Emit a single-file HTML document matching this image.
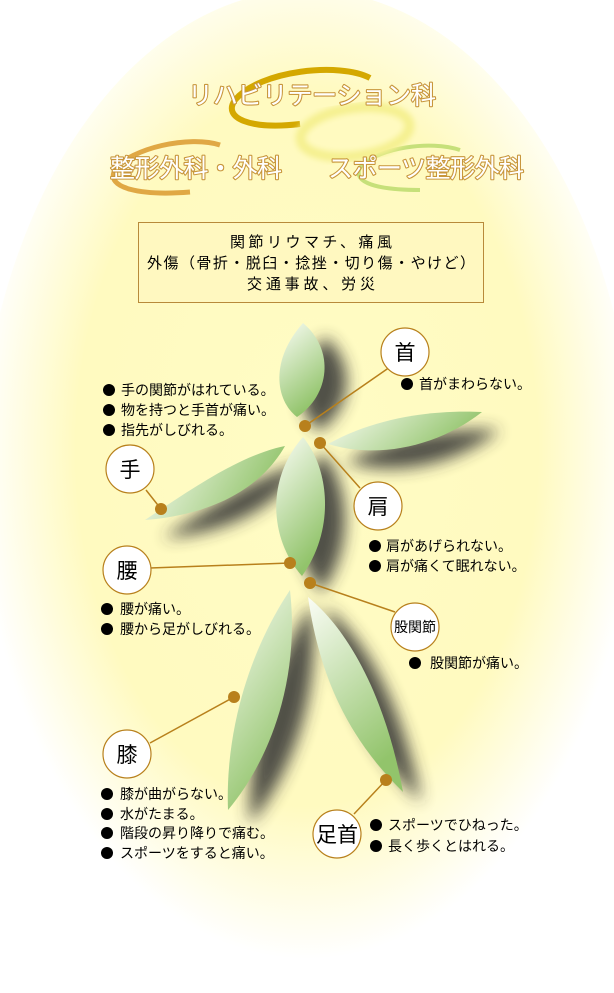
<!DOCTYPE html>
<html><head><meta charset="utf-8"><style>
body{margin:0;width:614px;height:988px;overflow:hidden;background:#fff;font-family:"Liberation Sans","Noto Sans CJK JP",sans-serif}
</style></head><body>
<svg width="614" height="988" viewBox="0 0 614 988" xmlns="http://www.w3.org/2000/svg" font-family="Liberation Sans, Noto Sans CJK JP, sans-serif">
<defs>
<radialGradient id="bg" cx="0.5" cy="0.45" r="0.5">
<stop offset="0" stop-color="#fffcc4"/><stop offset="0.7" stop-color="#fffac0"/><stop offset="1" stop-color="#fff" />
</radialGradient>
<linearGradient id="lf" x1="0" y1="0" x2="0.4" y2="1">
<stop offset="0" stop-color="#fbfdf6"/><stop offset="1" stop-color="#92c46b"/>
</linearGradient>
<linearGradient id="lfh" x1="0" y1="0" x2="1" y2="0.3">
<stop offset="0" stop-color="#fbfdf6"/><stop offset="1" stop-color="#92c46b"/>
</linearGradient>
<filter id="bl" x="-50%" y="-50%" width="200%" height="200%"><feGaussianBlur stdDeviation="8"/></filter>
<filter id="gl"><feGaussianBlur stdDeviation="3"/></filter>
</defs>
<rect width="614" height="988" fill="#fff"/>
<ellipse cx="307" cy="500" rx="330" ry="510" fill="url(#bg)"/>
<g fill="none">
<path d="M370,78 C340,62 260,70 235,100 C222,118 250,130 300,124" stroke="#d4a800" stroke-width="6"/>
<path d="M220,145 C190,135 130,148 115,170 C105,188 140,196 190,192" stroke="#e0a845" stroke-width="5"/>
<path d="M460,150 C430,140 380,148 362,165 C350,180 370,190 420,190" stroke="#c6e07a" stroke-width="4"/>
<ellipse cx="355" cy="132" rx="55" ry="24" stroke="#f5f090" stroke-width="10" transform="rotate(-8 355 132)" filter="url(#gl)"/>
</g>
<g font-size="25" fill="#fff" stroke="#c8963c" stroke-width="2.2" paint-order="stroke" stroke-linejoin="round">
<text x="188" y="104" textLength="248">リハビリテーション科</text>
<text x="110" y="177" textLength="172">整形外科・外科</text>
<text x="328" y="177" textLength="196">スポーツ整形外科</text>
</g>
<rect x="138.5" y="222.5" width="345" height="80" fill="#fff8c0" stroke="#b88a3a"/>
<g font-size="15" fill="#000" text-anchor="middle">
<text x="311" y="247" textLength="162">関節リウマチ、痛風</text>
<text x="311" y="268" textLength="328">外傷（骨折・脱臼・捻挫・切り傷・やけど）</text>
<text x="311" y="289" textLength="128">交通事故、労災</text>
</g>
<g fill="#333" filter="url(#bl)" opacity="0.85">
<path transform="translate(22,14)" d="M303,323 C270,360 275,400 297,417 C330,395 335,350 303,323 Z"/>
<path transform="translate(18,18)" d="M328,444 C380,415 440,410 482,412 C440,445 380,460 328,444 Z"/>
<path transform="translate(18,18)" d="M145,520 C190,490 240,455 285,446 C260,490 210,515 145,520 Z"/>
<path transform="translate(20,16)" d="M303,437 C265,480 270,540 302,576 C335,530 330,470 303,437 Z"/>
<path transform="translate(22,14)" d="M290,590 C250,650 225,730 228,810 C270,760 300,680 290,590 Z"/>
<path transform="translate(18,10)" d="M308,597 C320,680 350,740 403,792 C390,720 360,640 308,597 Z"/>
</g>
<g>
<path fill="url(#lf)" d="M303,323 C270,360 275,400 297,417 C330,395 335,350 303,323 Z"/>
<path fill="url(#lfh)" d="M328,444 C380,415 440,410 482,412 C440,445 380,460 328,444 Z"/>
<path fill="url(#lfh)" d="M145,520 C190,490 240,455 285,446 C260,490 210,515 145,520 Z"/>
<path fill="url(#lf)" d="M303,437 C265,480 270,540 302,576 C335,530 330,470 303,437 Z"/>
<path fill="url(#lf)" d="M290,590 C250,650 225,730 228,810 C270,760 300,680 290,590 Z"/>
<path fill="url(#lf)" d="M308,597 C320,680 350,740 403,792 C390,720 360,640 308,597 Z"/>
</g>
<g stroke="#b8801c" stroke-width="1.5">
<line x1="305" y1="426" x2="390" y2="367"/>
<line x1="320" y1="443" x2="360" y2="488"/>
<line x1="161" y1="509" x2="146" y2="490"/>
<line x1="290" y1="563" x2="150" y2="568"/>
<line x1="310" y1="583" x2="395" y2="612"/>
<line x1="234" y1="697" x2="150" y2="743"/>
<line x1="386" y1="780" x2="354" y2="814"/>
</g>
<g fill="#b8801c">
<circle cx="305" cy="426" r="6"/><circle cx="320" cy="443" r="6"/><circle cx="161" cy="509" r="6"/>
<circle cx="290" cy="563" r="6"/><circle cx="310" cy="583" r="6"/><circle cx="234" cy="697" r="6"/><circle cx="386" cy="780" r="6"/>
</g>
<g fill="#fff" stroke="#b8801c" stroke-width="1.2">
<circle cx="405" cy="352" r="24"/><circle cx="130" cy="469" r="24"/><circle cx="378" cy="506" r="24"/>
<circle cx="127" cy="570" r="24"/><circle cx="415" cy="627" r="24"/><circle cx="127" cy="754" r="24"/><circle cx="337" cy="834" r="24"/>
</g>
<g font-size="21" fill="#000" text-anchor="middle">
<text x="405" y="360">首</text><text x="130" y="477">手</text><text x="378" y="514">肩</text>
<text x="127" y="578">腰</text><text x="127" y="762">膝</text><text x="337" y="842">足首</text>
<text x="415" y="632" font-size="14">股関節</text>
</g>
<g fill="#000">
<circle cx="109" cy="390" r="6"/><circle cx="109" cy="410" r="6"/><circle cx="109" cy="430" r="6"/>
<circle cx="407" cy="384" r="6"/>
<circle cx="375" cy="546" r="6"/><circle cx="375" cy="566" r="6"/>
<circle cx="107" cy="609" r="6"/><circle cx="107" cy="629" r="6"/>
<circle cx="415" cy="663" r="6"/>
<circle cx="107" cy="794" r="6"/><circle cx="107" cy="814" r="6"/><circle cx="107" cy="833" r="6"/><circle cx="107" cy="853" r="6"/>
<circle cx="376" cy="825" r="6"/><circle cx="376" cy="846" r="6"/>
</g>
<g font-size="14" fill="#000">
<text x="121" y="395">手の関節がはれている。</text>
<text x="121" y="415">物を持つと手首が痛い。</text>
<text x="121" y="435">指先がしびれる。</text>
<text x="419" y="389">首がまわらない。</text>
<text x="386" y="551">肩があげられない。</text>
<text x="386" y="571">肩が痛くて眠れない。</text>
<text x="120" y="614">腰が痛い。</text>
<text x="120" y="634">腰から足がしびれる。</text>
<text x="430" y="668">股関節が痛い。</text>
<text x="120" y="799">膝が曲がらない。</text>
<text x="120" y="819">水がたまる。</text>
<text x="120" y="838">階段の昇り降りで痛む。</text>
<text x="120" y="858">スポーツをすると痛い。</text>
<text x="388" y="830">スポーツでひねった。</text>
<text x="388" y="851">長く歩くとはれる。</text>
</g>
</svg>
</body></html>
